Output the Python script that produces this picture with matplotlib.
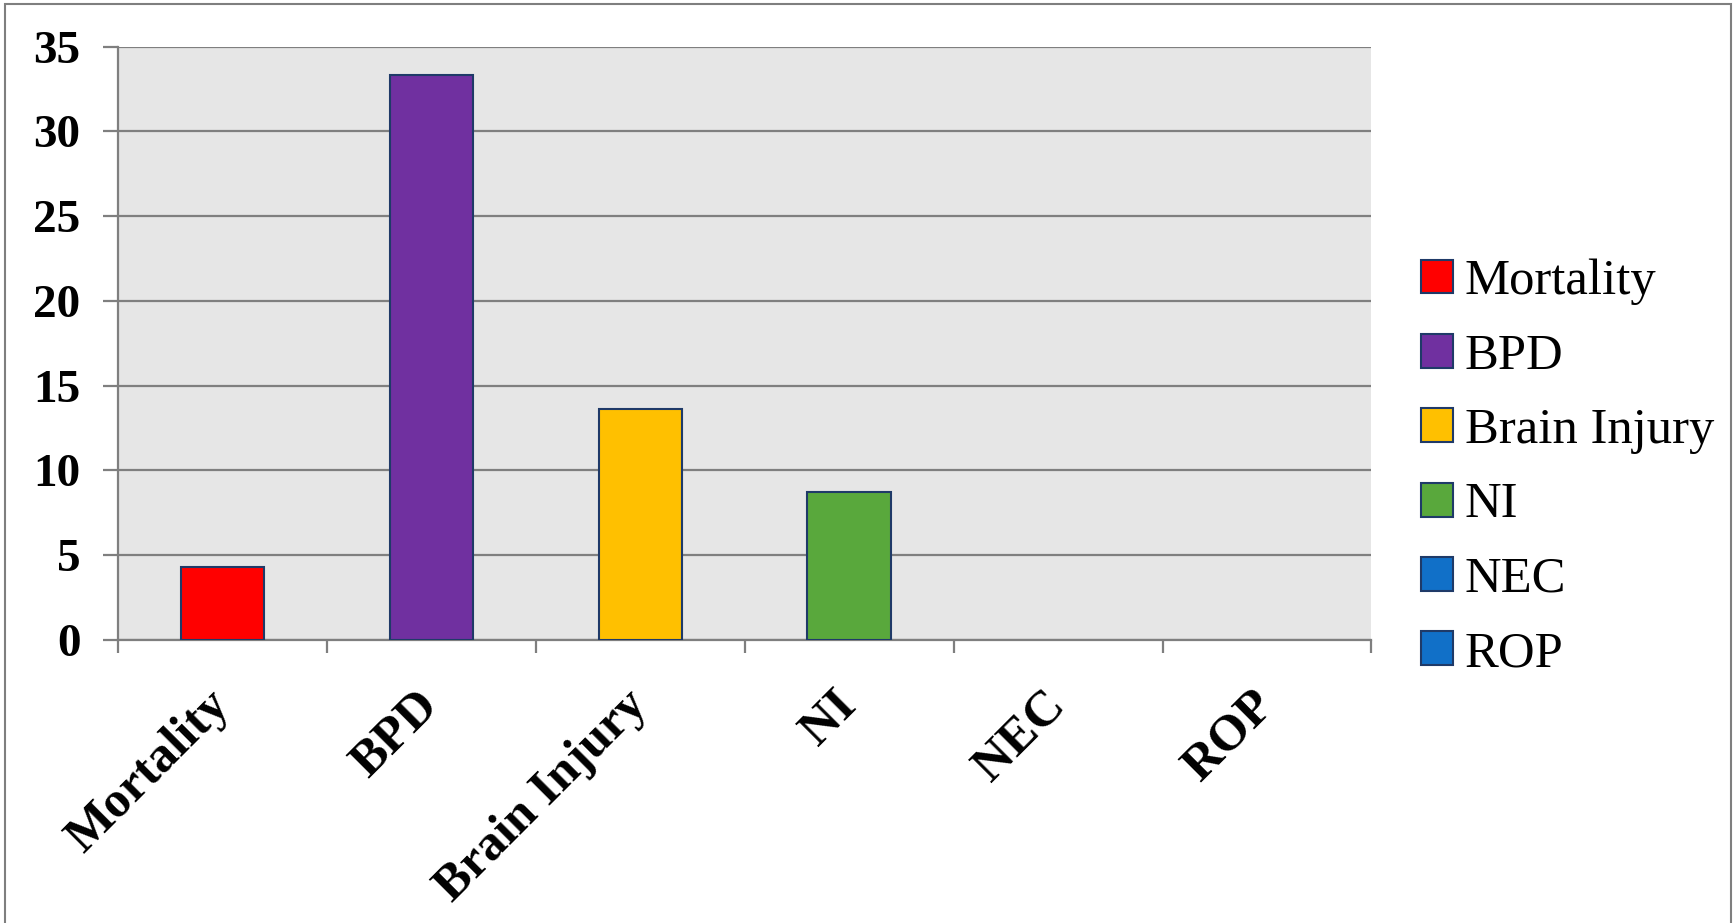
import matplotlib.pyplot as plt
import matplotlib.patches as mpatches
import numpy as np

# Données
categories = ["Mortality", "BPD", "Brain Injury", "NI", "NEC", "ROP"]
values = [4.3, 33.3, 13.6, 8.7, 0, 0]
colors = ["#FF0000", "#7030A0", "#FFC000", "#59A83C", "#1170C8", "#1170C8"]
yticks = [0, 5, 10, 15, 20, 25, 30, 35]

edge = "#1F3A68"
grid_col = "#7F7F7F"

fig = plt.figure(figsize=(17.36, 9.23), dpi=100)
ax = fig.add_axes([0.068, 0.3066, 0.722, 0.6430])

x = np.arange(len(categories))
for xi, v, c in zip(x, values, colors):
    if v > 0:
        ax.bar(xi, v, width=0.4, color=c, edgecolor=edge, linewidth=1.5, zorder=3)

ax.set_xlim(-0.5, len(categories) - 0.5)
ax.set_ylim(0, 35)
ax.set_facecolor("#E6E6E6")

# Grille horizontale
ax.set_yticks(yticks)
ax.grid(axis="y", color=grid_col, linewidth=1.6, zorder=1)
ax.set_axisbelow(True)

for s in ["top", "right"]:
    ax.spines[s].set_visible(False)
for s in ["left", "bottom"]:
    ax.spines[s].set_color(grid_col)
    ax.spines[s].set_linewidth(1.6)

ax.tick_params(axis="y", length=11, width=1.6, color=grid_col, pad=16)
ax.set_yticklabels([str(t) for t in yticks], fontfamily="Liberation Serif",
                   fontweight="bold", fontsize=34)

# Ticks x : séparations entre catégories, étiquettes au centre
ax.set_xticks(x)
ax.set_xticks(np.arange(-0.5, len(categories)), minor=True)
ax.tick_params(axis="x", which="major", length=0, pad=42)
ax.tick_params(axis="x", which="minor", length=9, width=1.6, color=grid_col)
ax.set_xticklabels(categories, rotation=45, ha="right", va="center",
                   rotation_mode="anchor", fontfamily="Liberation Serif",
                   fontweight="bold", fontsize=36.5)

# Légende
handles = [mpatches.Patch(facecolor=c, edgecolor=edge, linewidth=1.5) for c in colors]
fig.legend(handles, categories, loc="center left", bbox_to_anchor=(0.792, 0.493),
           frameon=False, prop={"family": "Liberation Serif", "size": 36.5},
           handlelength=0.65, handleheight=0.65, handletextpad=0.22,
           labelspacing=0.55)

# Cadre autour de la figure
fig.patches.append(mpatches.Rectangle((0.003, -0.01), 0.994, 1.006,
                                      transform=fig.transFigure, fill=False,
                                      edgecolor="#7F7F7F", linewidth=1.5))

plt.savefig("out.png", dpi=100)
